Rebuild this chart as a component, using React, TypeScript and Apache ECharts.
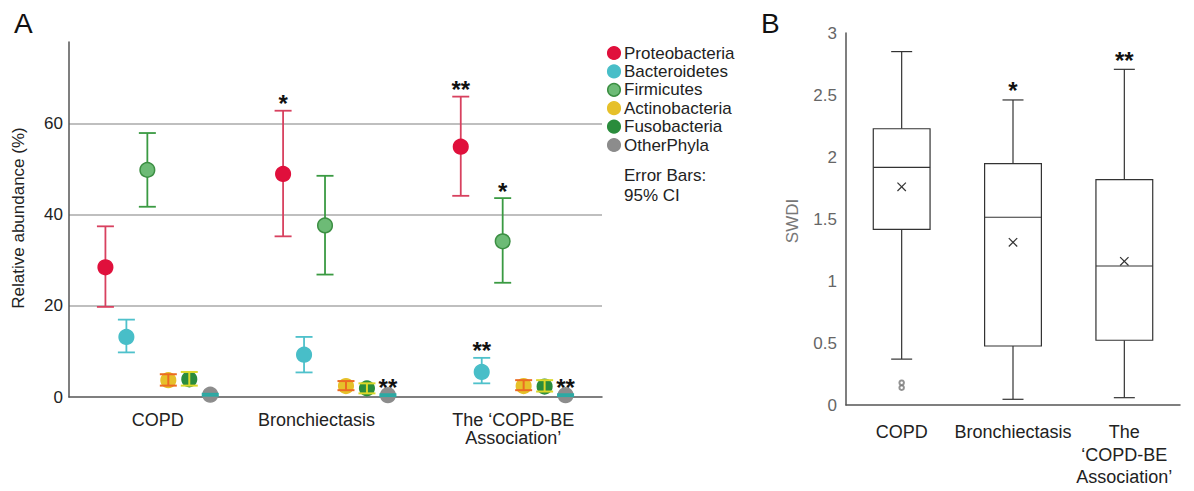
import React, { useEffect, useRef } from "react";
import * as echarts from "echarts";

// ---------- Panel A data ----------
const groupsA = ["COPD", "Bronchiectasis", "The ‘COPD-BE\nAssociation’"];
const phyla = ["Proteobacteria", "Bacteroidetes", "Firmicutes", "Actinobacteria", "Fusobacteria", "OtherPhyla"];

const proteoMean = [28.5, 49.0, 55.0];
const proteoLow = [19.8, 35.3, 44.2];
const proteoHigh = [37.5, 62.9, 66.0];
const proteoSig = ["", "*", "**"];

const bactMean = [13.2, 9.3, 5.5];
const bactLow = [9.8, 5.4, 3.0];
const bactHigh = [17.0, 13.2, 8.6];
const bactSig = ["", "", "**"];

const firmMean = [49.9, 37.7, 34.2];
const firmLow = [41.8, 26.9, 25.1];
const firmHigh = [58.0, 48.6, 43.7];
const firmSig = ["", "", "*"];

const actinoMean = [3.7, 2.4, 2.4];
const actinoLow = [2.5, 1.5, 1.5];
const actinoHigh = [5.0, 3.5, 3.7];
const actinoSig = ["", "", ""];

const fusoMean = [3.9, 1.9, 2.3];
const fusoLow = [2.5, 0.8, 1.2];
const fusoHigh = [5.5, 3.0, 3.7];
const fusoSig = ["", "", ""];

const otherMean = [0.5, 0.4, 0.4];
const otherLow = [0.3, 0.2, 0.2];
const otherHigh = [0.7, 0.6, 0.6];
const otherSig = ["", "**", "**"];

const yTicksA = [0, 20, 40, 60];

// ---------- Panel B data ----------
const groupsB = ["COPD", "Bronchiectasis", "The\n‘COPD-BE\nAssociation’"];
const swdiMin = [0.37, 0.046, 0.059];
const swdiQ1 = [1.417, 0.476, 0.522];
const swdiMedian = [1.917, 1.514, 1.121];
const swdiQ3 = [2.228, 1.946, 1.817];
const swdiMax = [2.85, 2.46, 2.707];
const swdiMean = [1.76, 1.312, 1.159];
const swdiSig = ["", "*", "**"];
const swdiOutlierGroup = [0, 0];
const swdiOutlierValue = [0.14, 0.18];

// ---------- styles ----------
const FONT = '"Liberation Sans", Arial, sans-serif';
const phylumStyles = [
  { fill: "#e0103c", stroke: "#e0103c", bar: "#d8415f", lw: 1.8, barOnTop: false },
  { fill: "#48bec8", stroke: "#48bec8", bar: "#4fc1cb", lw: 1.8, barOnTop: false },
  { fill: "#6dbb76", stroke: "#3c8f43", bar: "#3a9a42", lw: 1.8, barOnTop: false },
  { fill: "#e6c02a", stroke: "#e6c02a", bar: "#ec6b22", lw: 2, barOnTop: true },
  { fill: "#2a8c3c", stroke: "#2a8c3c", bar: "#dcd82a", lw: 2, barOnTop: true },
  { fill: "#8c8c8c", stroke: "#8c8c8c", bar: "#2aaaa4", lw: 2, barOnTop: true },
];

const phylumData = [
  [proteoMean, proteoLow, proteoHigh, proteoSig],
  [bactMean, bactLow, bactHigh, bactSig],
  [firmMean, firmLow, firmHigh, firmSig],
  [actinoMean, actinoLow, actinoHigh, actinoSig],
  [fusoMean, fusoLow, fusoHigh, fusoSig],
  [otherMean, otherLow, otherHigh, otherSig],
];

function starText(text: string, x: number, y: number) {
  return {
    type: "text",
    style: {
      text,
      x,
      y,
      fill: "#111",
      font: `bold 24px ${FONT}`,
      align: "center",
      textAlign: "center",
      verticalAlign: "middle",
      textVerticalAlign: "middle",
    },
  };
}

function buildOption() {
  const seriesA = phyla.map((name, k) => {
    const [mean, low, high, sig] = phylumData[k] as [number[], number[], number[], string[]];
    const st = phylumStyles[k];
    return {
      name,
      type: "custom",
      xAxisIndex: 0,
      yAxisIndex: 0,
      data: mean.map((m, i) => [i, m, low[i], high[i]]),
      renderItem: (params: any, api: any) => {
        const cat = api.value(0);
        const bw = api.size([1, 0])[0];
        const dx = (k - 2.5) * bw * 0.118;
        const c = api.coord([cat, api.value(1)]);
        const lo = api.coord([cat, api.value(2)]);
        const hi = api.coord([cat, api.value(3)]);
        const x = c[0] + dx;
        const cap = 8.5;
        const ls = { stroke: st.bar, lineWidth: st.lw };
        const bars = [
          { type: "line", shape: { x1: x, y1: lo[1], x2: x, y2: hi[1] }, style: ls },
          { type: "line", shape: { x1: x - cap, y1: hi[1], x2: x + cap, y2: hi[1] }, style: ls },
          { type: "line", shape: { x1: x - cap, y1: lo[1], x2: x + cap, y2: lo[1] }, style: ls },
        ];
        const circle = {
          type: "circle",
          shape: { cx: x, cy: c[1], r: 7.3 },
          style: { fill: st.fill, stroke: st.stroke, lineWidth: 1.5 },
        };
        const children: any[] = st.barOnTop ? [circle, ...bars] : [...bars, circle];
        const s = sig[params.dataIndex];
        if (s) children.push(starText(s, x, hi[1] - 7));
        return { type: "group", children };
      },
    };
  });

  const boxSeries = {
    type: "custom",
    xAxisIndex: 1,
    yAxisIndex: 1,
    data: swdiMin.map((mn, i) => [i, mn, swdiQ1[i], swdiMedian[i], swdiQ3[i], swdiMax[i], swdiMean[i]]),
    renderItem: (params: any, api: any) => {
      const cat = api.value(0);
      const bw = api.size([1, 0])[0] * 0.51;
      const x = api.coord([cat, 0])[0];
      const y = (v: number) => api.coord([cat, v])[1];
      const yMin = y(api.value(1));
      const yQ1 = y(api.value(2));
      const yMed = y(api.value(3));
      const yQ3 = y(api.value(4));
      const yMax = y(api.value(5));
      const yMean = y(api.value(6));
      const ls = { stroke: "#333", lineWidth: 1.2, fill: "none" };
      const cap = 10.5;
      const m = 4.2;
      const children: any[] = [
        { type: "line", shape: { x1: x, y1: yQ3, x2: x, y2: yMax }, style: ls },
        { type: "line", shape: { x1: x, y1: yQ1, x2: x, y2: yMin }, style: ls },
        { type: "line", shape: { x1: x - cap, y1: yMax, x2: x + cap, y2: yMax }, style: ls },
        { type: "line", shape: { x1: x - cap, y1: yMin, x2: x + cap, y2: yMin }, style: ls },
        { type: "rect", shape: { x: x - bw / 2, y: yQ3, width: bw, height: yQ1 - yQ3 }, style: { stroke: "#333", lineWidth: 1.2, fill: "#fff" } },
        { type: "line", shape: { x1: x - bw / 2, y1: yMed, x2: x + bw / 2, y2: yMed }, style: ls },
        { type: "line", shape: { x1: x - m, y1: yMean - m, x2: x + m, y2: yMean + m }, style: ls },
        { type: "line", shape: { x1: x - m, y1: yMean + m, x2: x + m, y2: yMean - m }, style: ls },
      ];
      const s = swdiSig[params.dataIndex];
      if (s) children.push(starText(s, x, yMax - 9));
      return { type: "group", children };
    },
  };

  const outlierSeries = {
    type: "scatter",
    xAxisIndex: 1,
    yAxisIndex: 1,
    symbol: "emptyCircle",
    symbolSize: 4.5,
    itemStyle: { color: "#777", borderWidth: 1 },
    data: swdiOutlierGroup.map((g, i) => [g, swdiOutlierValue[i]]),
  };

  const legend: any[] = phyla.map((name, k) => {
    const st = phylumStyles[k];
    const yy = 53 + k * 18.4;
    return {
      type: "group",
      children: [
        { type: "circle", shape: { cx: 614, cy: yy, r: 6.3 }, style: { fill: st.fill, stroke: st.stroke, lineWidth: 1.5 } },
        {
          type: "text",
          style: { text: name, x: 624, y: yy, fill: "#222", font: `17px ${FONT}`, verticalAlign: "middle", textVerticalAlign: "middle" },
        },
      ],
    };
  });

  const graphic: any[] = [
    ...legend,
    { type: "text", style: { text: "Error Bars:", x: 624, y: 175, fill: "#222", font: `17px ${FONT}`, verticalAlign: "middle", textVerticalAlign: "middle" } },
    { type: "text", style: { text: "95% CI", x: 624, y: 195, fill: "#222", font: `17px ${FONT}`, verticalAlign: "middle", textVerticalAlign: "middle" } },
    { type: "text", style: { text: "A", x: 14, y: 23, fill: "#111", font: `28px ${FONT}`, verticalAlign: "middle", textVerticalAlign: "middle" } },
    { type: "text", style: { text: "B", x: 761, y: 23, fill: "#111", font: `28px ${FONT}`, verticalAlign: "middle", textVerticalAlign: "middle" } },
    {
      type: "text",
      x: 18,
      y: 218,
      rotation: Math.PI / 2,
      style: { text: "Relative abundance (%)", x: 0, y: 0, fill: "#222", font: `17px ${FONT}`, align: "center", textAlign: "center", verticalAlign: "middle", textVerticalAlign: "middle" },
    },
    {
      type: "text",
      x: 792,
      y: 221,
      rotation: Math.PI / 2,
      style: { text: "SWDI", x: 0, y: 0, fill: "#777", font: `17px ${FONT}`, align: "center", textAlign: "center", verticalAlign: "middle", textVerticalAlign: "middle" },
    },
  ];

  return {
    animation: false,
    backgroundColor: "#fff",
    textStyle: { fontFamily: FONT },
    grid: [
      { left: 69, top: 42, width: 533, height: 355 },
      { left: 846, top: 33, width: 334, height: 372 },
    ],
    xAxis: [
      {
        type: "category",
        gridIndex: 0,
        data: groupsA,
        axisTick: { show: false },
        axisLine: { lineStyle: { color: "#555", width: 1.5 } },
        axisLabel: {
          interval: 0,
          color: "#222",
          fontSize: 18,
          margin: 14,
          lineHeight: 18,
          fontFamily: FONT,
          formatter: (v: string) => (v === groupsA[1] ? `{s|${v}}` : v),
          rich: { s: { fontSize: 18, color: "#222", fontFamily: FONT, padding: [0, 38, 0, 0] } },
        },
      },
      {
        type: "category",
        gridIndex: 1,
        data: groupsB,
        axisTick: { show: false },
        axisLine: { lineStyle: { color: "#555", width: 1.5 } },
        axisLabel: { interval: 0, color: "#222", fontSize: 18, margin: 16, lineHeight: 22.5, fontFamily: FONT },
      },
    ],
    yAxis: [
      {
        type: "value",
        gridIndex: 0,
        min: yTicksA[0],
        max: 78,
        interval: yTicksA[1] - yTicksA[0],
        axisLine: { show: true, lineStyle: { color: "#555", width: 1.5 } },
        axisTick: { show: false },
        splitLine: { show: true, showMinLine: false, showMaxLine: false, lineStyle: { color: "#aaa", width: 1.5 } },
        axisLabel: { color: "#222", fontSize: 17, margin: 6, showMaxLabel: false, fontFamily: FONT },
      },
      {
        type: "value",
        gridIndex: 1,
        min: 0,
        max: 3,
        interval: 0.5,
        axisLine: { show: true, lineStyle: { color: "#555", width: 1.5 } },
        axisTick: { show: false },
        splitLine: { show: false },
        axisLabel: { color: "#666", fontSize: 17, margin: 9, fontFamily: FONT },
      },
    ],
    series: [...seriesA, boxSeries, outlierSeries],
    graphic,
  };
}

export default function App() {
  const ref = useRef<HTMLDivElement>(null);
  useEffect(() => {
    if (!ref.current) return;
    const chart = echarts.init(ref.current, undefined, { renderer: "svg" });
    chart.setOption(buildOption() as any);
    return () => chart.dispose();
  }, []);
  return (
    <div
      ref={ref}
      style={{ position: "fixed", left: 0, top: 0, width: 1194, height: 491, background: "#fff" }}
    />
  );
}
